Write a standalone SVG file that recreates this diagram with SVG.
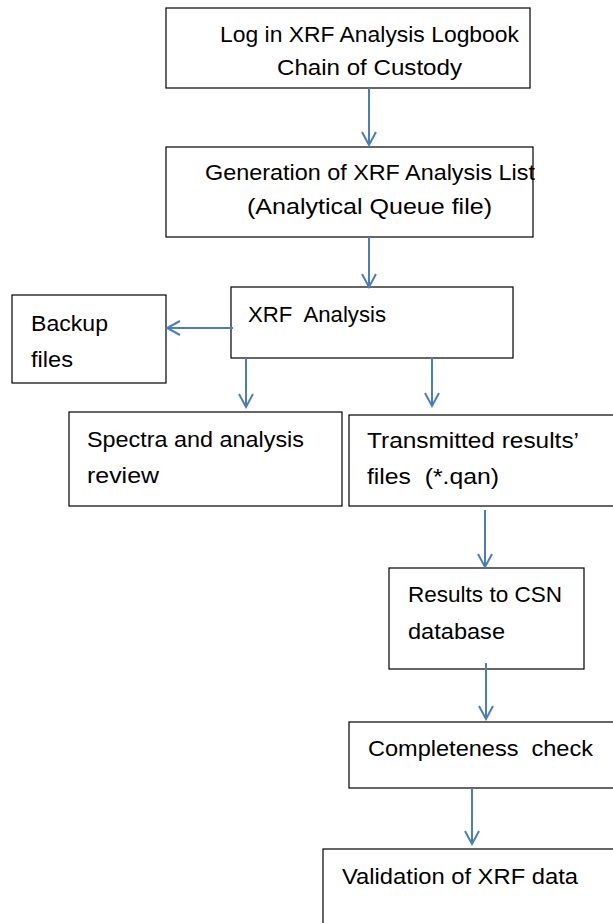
<svg xmlns="http://www.w3.org/2000/svg" width="613" height="923" viewBox="0 0 613 923">
<style>
.box{fill:#fff;stroke:#000;stroke-width:1.2}
.t{font-family:"Liberation Sans",Arial,sans-serif;font-size:22px;fill:#000}
.c{stroke:#4a7ebb;stroke-width:2;fill:none}
</style>
<defs>
<marker id="ah" markerWidth="16" markerHeight="16" refX="14" refY="8" orient="auto" markerUnits="userSpaceOnUse">
<path d="M1,1 L14,8 L1,15" fill="none" stroke="#4a7ebb" stroke-width="2"/>
</marker>
</defs>
<rect width="613" height="923" fill="#fff"/>
<g id="n1"><rect class="box" x="166" y="8" width="364" height="80"/>
<text class="t" x="220" y="42" textLength="299" lengthAdjust="spacingAndGlyphs">Log in XRF Analysis Logbook</text>
<text class="t" x="277" y="75" textLength="185" lengthAdjust="spacingAndGlyphs">Chain of Custody</text></g>
<g id="n2"><rect class="box" x="166" y="147" width="367" height="90"/>
<text class="t" x="205" y="180" textLength="330" lengthAdjust="spacingAndGlyphs">Generation of XRF Analysis List</text>
<text class="t" x="247" y="214" textLength="245" lengthAdjust="spacingAndGlyphs">(Analytical Queue file)</text></g>
<g id="n3"><rect class="box" x="231" y="287" width="282" height="71"/>
<text class="t" x="248" y="322" xml:space="preserve" textLength="138" lengthAdjust="spacingAndGlyphs">XRF  Analysis</text></g>
<g id="n4"><rect class="box" x="12" y="295" width="154" height="88"/>
<text class="t" x="31" y="331" textLength="77" lengthAdjust="spacingAndGlyphs">Backup</text>
<text class="t" x="31" y="367" textLength="42" lengthAdjust="spacingAndGlyphs">files</text></g>
<g id="n5"><rect class="box" x="69" y="412" width="273" height="94"/>
<text class="t" x="87" y="447" textLength="217" lengthAdjust="spacingAndGlyphs">Spectra and analysis</text>
<text class="t" x="87" y="483" textLength="72" lengthAdjust="spacingAndGlyphs">review</text></g>
<g id="n6"><rect class="box" x="349" y="415" width="270" height="91"/>
<text class="t" x="367" y="448" textLength="212" lengthAdjust="spacingAndGlyphs">Transmitted results’</text>
<text class="t" x="367" y="484" xml:space="preserve" textLength="132" lengthAdjust="spacingAndGlyphs">files  (*.qan)</text></g>
<g id="n7"><rect class="box" x="389" y="568" width="195" height="101"/>
<text class="t" x="408" y="602" textLength="154" lengthAdjust="spacingAndGlyphs">Results to CSN</text>
<text class="t" x="408" y="639" textLength="97" lengthAdjust="spacingAndGlyphs">database</text></g>
<g id="n8"><rect class="box" x="349" y="722" width="270" height="66"/>
<text class="t" x="368" y="756" xml:space="preserve" textLength="225" lengthAdjust="spacingAndGlyphs">Completeness  check</text></g>
<g id="n9"><rect class="box" x="323" y="849" width="300" height="90"/>
<text class="t" x="342" y="884" textLength="236" lengthAdjust="spacingAndGlyphs">Validation of XRF data</text></g>
<g id="connectors">
<line class="c" x1="369" y1="88" x2="369" y2="145" marker-end="url(#ah)"/>
<line class="c" x1="369" y1="237" x2="369" y2="287" marker-end="url(#ah)"/>
<line class="c" x1="233" y1="328" x2="167" y2="328" marker-end="url(#ah)"/>
<line class="c" x1="246" y1="358" x2="246" y2="407" marker-end="url(#ah)"/>
<line class="c" x1="432" y1="357" x2="432" y2="406" marker-end="url(#ah)"/>
<line class="c" x1="485" y1="510" x2="485" y2="567" marker-end="url(#ah)"/>
<line class="c" x1="486" y1="663" x2="486" y2="719" marker-end="url(#ah)"/>
<line class="c" x1="472" y1="788" x2="472" y2="844" marker-end="url(#ah)"/>
</g>
</svg>
